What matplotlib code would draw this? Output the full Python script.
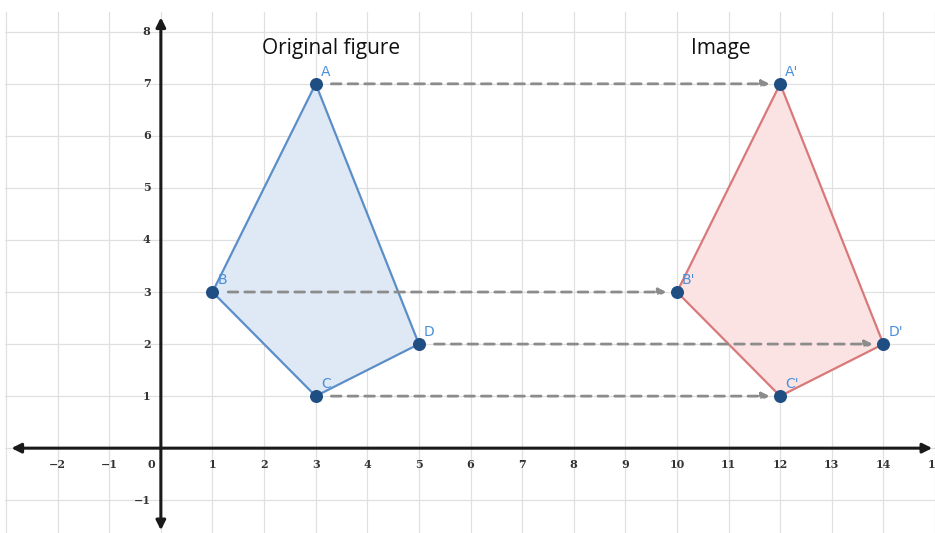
import matplotlib
matplotlib.use("Agg")
import matplotlib.pyplot as plt
from matplotlib.patches import Polygon, FancyArrowPatch

names = ["A", "B", "C", "D"]
orig_x = [3, 1, 3, 5]
orig_y = [7, 3, 1, 2]
img_x = [12, 10, 12, 14]
img_y = [7, 3, 1, 2]
x_ticks = [-2, -1, 0, 1, 2, 3, 4, 5, 6, 7, 8, 9, 10, 11, 12, 13, 14, 15]
y_ticks = [-1, 1, 2, 3, 4, 5, 6, 7, 8]

fig = plt.figure(figsize=(9.35, 5.33), dpi=100)
ax = fig.add_axes([5/935, 0, 930/935, 521/533])
ax.set_xlim(-3.02, 15.0)
ax.set_ylim(-1.63, 8.38)
ax.axis("off")

# grid
for gx in range(-3, 16):
    ax.plot([gx, gx], [-1.63, 8.38], color="#e0e0e0", lw=0.9, zorder=0)
for gy in range(-1, 9):
    ax.plot([-3.02, 15.0], [gy, gy], color="#e0e0e0", lw=0.9, zorder=0)

# axes with arrows
ax.add_patch(FancyArrowPatch((-2.95, 0), (15.0, 0), arrowstyle="<|-|>", mutation_scale=14,
                             color="#1a1a1a", lw=2.2, zorder=2))
ax.add_patch(FancyArrowPatch((0, -1.63), (0, 8.33), arrowstyle="<|-|>", mutation_scale=14,
                             color="#1a1a1a", lw=2.2, zorder=2))

tickfont = dict(family="DejaVu Serif", fontsize=8, fontweight="bold", color="#333333")
for t in x_ticks:
    if t == 0:
        ax.text(-0.18, -0.2, "0", ha="center", va="top", **tickfont)
    else:
        ax.text(t, -0.2, ("\u2212%d" % -t) if t < 0 else str(t), ha="center", va="top", **tickfont)
for t in y_ticks:
    ax.text(-0.2, t, ("\u2212%d" % -t) if t < 0 else str(t), ha="right", va="center", **tickfont)

# polygons
ax.add_patch(Polygon(list(zip(orig_x, orig_y)), closed=True, facecolor="#dfe9f5",
                     edgecolor="#5b8ec8", lw=1.6, zorder=3))
ax.add_patch(Polygon(list(zip(img_x, img_y)), closed=True, facecolor="#fbe3e3",
                     edgecolor="#d9787a", lw=1.6, zorder=3))

# dashed translation arrows
for x0, y0, x1, y1 in zip(orig_x, orig_y, img_x, img_y):
    ax.add_patch(FancyArrowPatch((x0 + 0.25, y0), (x1 - 0.15, y1), arrowstyle="-|>",
                                 mutation_scale=11, color="#8c8c8c", lw=2.0,
                                 linestyle=(0, (3.5, 2.5)), zorder=4))

# points
ax.scatter(orig_x + img_x, orig_y + img_y, s=70, color="#1f4f82", zorder=5)

# labels
for n, x, y in zip(names, orig_x, orig_y):
    ax.text(x + 0.1, y + 0.1, n, color="#4a90d9", fontsize=10, ha="left", va="bottom", zorder=6)
for n, x, y in zip(names, img_x, img_y):
    ax.text(x + 0.1, y + 0.1, n + "'", color="#4a90d9", fontsize=10, ha="left", va="bottom", zorder=6)

ax.text(3.3, 7.67, "Original figure", fontsize=15, ha="center", va="center", color="#111111",
        family="Open Sans")
ax.text(10.85, 7.67, "Image", fontsize=15, ha="center", va="center", color="#111111",
        family="Open Sans")

fig.savefig("out.png", dpi=100, facecolor="white")
